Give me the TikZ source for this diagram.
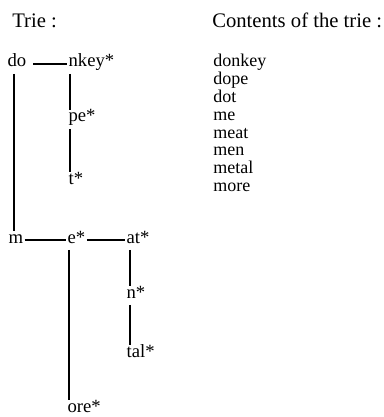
\documentclass[tikz,border=0pt]{standalone}
\usepackage{fontspec}
\setmainfont{Liberation Serif}

\begin{document}
\begin{tikzpicture}[x=0.75pt, y=-0.75pt,
        part/.style={anchor=base west, inner xsep=1pt, inner ysep=4pt,
            text height=1ex, text depth=0.1em, font=\fontsize{14}{16}\selectfont},
        heading/.style={anchor=base west, inner sep=0pt, font=\fontsize{15.5}{18}\selectfont},
        word/.style={anchor=base west, inner sep=0pt, font=\fontsize{13.5}{16}\selectfont},
        link/.style={line width=1.5pt}]
        \useasboundingbox (0,0) rectangle (384,417);

        % Headings
        \node[heading] (trietitle) at (12,28) {Trie :};
        \node[heading] (wordstitle) at (212,28) {Contents of the trie :};

        % Trie nodes
        \node[part] (do) at (6,67) {do};
        \node[part] (nkey) at (67,67) {nkey*};
        \node[part] (pe) at (67,122) {pe*};
        \node[part] (t) at (67,184) {t*};
        \node[part] (m) at (7,243) {m};
        \node[part] (e) at (66,243) {e*};
        \node[part] (at) at (125,243) {at*};
        \node[part] (n) at (125,298) {n*};
        \node[part] (tal) at (125,357) {tal*};
        \node[part] (ore) at (66,412) {ore*};

        % Links along a word
        \draw[link, shorten <=4pt] (do.mid east) -- (nkey.mid west);
        \draw[link] (m.mid east) -- (e.mid west);
        \draw[link] (e.mid east) -- (at.mid west);

        % Links to the alternatives
        \draw[link] ([xshift=6pt]do.south west) -- ([xshift=6pt]do.south west |- m.north);
        \draw[link] ([xshift=2pt]nkey.south west) -- ([xshift=2pt]pe.north west);
        \draw[link] ([xshift=2pt]pe.south west) -- ([xshift=2pt]t.north west);
        \draw[link] ([xshift=2pt]e.south west) -- ([xshift=2pt]ore.north west);
        \draw[link] ([xshift=3.5pt]at.south west) -- ([xshift=3.5pt]n.north west);
        \draw[link] ([xshift=3.5pt]n.south west) -- ([xshift=3.5pt]tal.north west);

        % Stored words
        \foreach \w [count=\i from 0] in {donkey,dope,dot,me,meat,men,metal,more}
            \node[word] (w\i) at (213,67+17.8*\i) {\w};
\end{tikzpicture}
\end{document}
